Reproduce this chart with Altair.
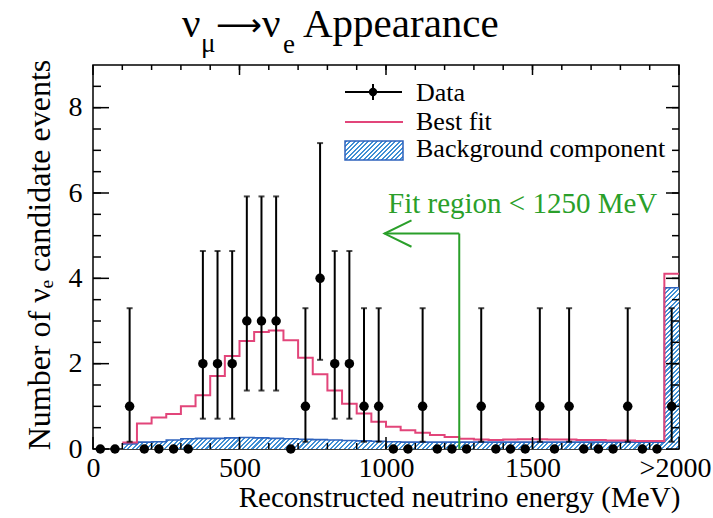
import altair as alt
import pandas as pd

# ---------------- data ----------------
bin_edges = list(range(0, 2001, 50))          # 40 bins of 50 MeV, last bin = ">2000" overflow
counts = [0, 0, 1, 0, 0, 0, 0, 2, 2, 2, 3, 3, 3, 0, 1, 4, 2, 2, 1, 1,
          0, 0, 1, 0, 0, 0, 1, 0, 0, 0, 1, 0, 1, 0, 0, 0, 1, 0, 0, 1]
err_low = [None, None, 0.17, None, None, None, None, 0.71, 0.71, 0.71,
           1.37, 1.37, 1.37, None, 0.17, 2.09, 0.71, 0.71, 0.17, 0.17,
           None, None, 0.17, None, None, None, 0.17, None, None, None,
           0.17, None, 0.17, None, None, None, 0.17, None, None, 0.17]
err_high = [None, None, 3.30, None, None, None, None, 4.64, 4.64, 4.64,
            5.92, 5.92, 5.92, None, 3.30, 7.17, 4.64, 4.64, 3.30, 3.30,
            None, None, 3.30, None, None, None, 3.30, None, None, None,
            3.30, None, 3.30, None, None, None, 3.30, None, None, 3.30]
best_fit = [None, None, 0.15, 0.60, 0.74, 0.82, 1.00, 1.26, 1.71, 2.18,
            2.53, 2.74, 2.78, 2.55, 2.14, 1.75, 1.37, 1.06, 0.83, 0.64,
            0.52, 0.44, 0.38, 0.33, 0.28, 0.24, 0.22, 0.21, 0.22, 0.23,
            0.23, 0.22, 0.22, 0.21, 0.21, 0.20, 0.20, 0.19, 0.19, 4.11]
background = [None, None, 0.12, 0.16, 0.17, 0.21, 0.24, 0.25, 0.25, 0.26,
              0.27, 0.26, 0.25, 0.24, 0.23, 0.22, 0.21, 0.20, 0.19, 0.18,
              0.17, 0.16, 0.16, 0.16, 0.16, 0.16, 0.16, 0.16, 0.16, 0.16,
              0.16, 0.16, 0.16, 0.16, 0.16, 0.16, 0.16, 0.16, 0.16, 3.78]

fit_limit = [1250]        # MeV
arrow_level = [5.05]      # events
arrow_tip = [995]         # MeV

x_major = [0, 500, 1000, 1500, 2000]
x_minor = [v for v in range(100, 2000, 100)]
y_major = [0, 2, 4, 6, 8]
y_minor = [v / 2 for v in range(1, 18)]

# ---------------- styling ----------------
W, H = 586, 384
XMAX, YMAX = 2000, 9
FONT = "Liberation Serif"
PINK = "#e2457a"
BLUE = "#2f63bd"
HATCH = "#3f8fd4"
GREEN = "#2a9f2a"

# ---------------- tables ----------------
hist = pd.DataFrame({
    "edge": bin_edges,
    "fit": best_fit + [best_fit[-1]],
    "bg": background + [background[-1]],
})
pts = pd.DataFrame({
    "center": [e + 25 for e in bin_edges[:-1]],
    "n": counts,
    "lo": err_low,
    "hi": err_high,
})
errs = pts.dropna()
fitreg = pd.DataFrame({"x": fit_limit, "y0": [0], "y1": arrow_level, "tip": arrow_tip})
head = pd.DataFrame({
    "x": [arrow_tip[0] + 92, arrow_tip[0], arrow_tip[0] + 92],
    "y": [arrow_level[0] + 0.31, arrow_level[0], arrow_level[0] - 0.31],
    "o": [0, 1, 2],
})
xmaj_df = pd.DataFrame({"v": x_major})
xmin_df = pd.DataFrame({"v": x_minor})
ymaj_df = pd.DataFrame({"v": y_major})
ymin_df = pd.DataFrame({"v": y_minor})
one = pd.DataFrame({"k": [0]})


def hatch_fill(w, h, period=4.6, frac=0.45):
    s = (w + h) * w / (w * w + h * h)
    n = int(round((w + h) / period))
    stops = []
    for i in range(n):
        a, b, c = i / n, (i + frac) / n, (i + 1) / n
        stops += [{"offset": a, "color": HATCH}, {"offset": b, "color": HATCH},
                  {"offset": b, "color": "white"}, {"offset": c, "color": "white"}]
    return {"gradient": "linear", "stops": stops, "x1": 0, "y1": 0,
            "x2": s, "y2": s * h / w}


first_bg = next(e for e, v in zip(bin_edges, background) if v is not None)
area_w = (XMAX - first_bg) / XMAX * W
area_h = max(v for v in background if v is not None) / YMAX * H

xs = alt.Scale(domain=[0, XMAX], nice=False, zero=False)
ys = alt.Scale(domain=[0, YMAX], nice=False)

x_label_axis = alt.Axis(orient="bottom", values=x_major, format="d", ticks=False, domain=False,
                        grid=False, labelFont=FONT, labelFontSize=28, labelColor="black",
                        labelPadding=5, labelFlush=False, labelOverlap=False, labelBound=False,
                        labelExpr="datum.value == 2000 ? '>2000' : datum.label",
                        labelOffset={"condition": {"test": "datum.value == 2000", "value": -4},
                                     "value": 0},
                        title="Reconstructed neutrino energy (MeV)", titleFont=FONT,
                        titleFontSize=29, titleFontWeight="normal", titleColor="black",
                        titleX=366, titleY=57, titleAlign="center", titleBaseline="alphabetic")
y_label_axis = alt.Axis(orient="left", values=y_major, ticks=False, domain=False, grid=False,
                        labelFont=FONT, labelFontSize=28, labelColor="black", labelPadding=11,
                        labelFlush=False, labelOverlap=False, title=None)

bg_area = alt.Chart(hist).mark_area(interpolate="step-after",
                                    fill=hatch_fill(area_w, area_h)).encode(
    x=alt.X("edge:Q", scale=xs, axis=x_label_axis),
    y=alt.Y("bg:Q", scale=ys, axis=y_label_axis))

bg_line = alt.Chart(hist).mark_line(interpolate="step-after", color=BLUE, strokeWidth=1.6).encode(
    x=alt.X("edge:Q", scale=xs), y=alt.Y("bg:Q", scale=ys))

fit_line = alt.Chart(hist).mark_line(interpolate="step-after", color=PINK, strokeWidth=2).encode(
    x=alt.X("edge:Q", scale=xs), y=alt.Y("fit:Q", scale=ys))

err_rule = alt.Chart(errs).mark_rule(color="black", strokeWidth=2).encode(
    x=alt.X("center:Q", scale=xs), y=alt.Y("lo:Q", scale=ys), y2="hi:Q")

cap_lo = alt.Chart(errs).mark_tick(orient="horizontal", color="black", thickness=2, size=6).encode(
    x=alt.X("center:Q", scale=xs), y=alt.Y("lo:Q", scale=ys))

cap_hi = alt.Chart(errs).mark_tick(orient="horizontal", color="black", thickness=2, size=6).encode(
    x=alt.X("center:Q", scale=xs), y=alt.Y("hi:Q", scale=ys))

points = alt.Chart(pts).mark_circle(color="black", opacity=1, size=90).encode(
    x=alt.X("center:Q", scale=xs), y=alt.Y("n:Q", scale=ys))

# inward ticks on all four sides (ROOT style)
TK = dict(color="black", strokeWidth=1.5)
ticks = [
    alt.Chart(xmaj_df).mark_rule(**TK).encode(x=alt.X("v:Q", scale=xs), y=alt.value(H), y2=alt.value(H - 12)),
    alt.Chart(xmin_df).mark_rule(**TK).encode(x=alt.X("v:Q", scale=xs), y=alt.value(H), y2=alt.value(H - 6)),
    alt.Chart(xmaj_df).mark_rule(**TK).encode(x=alt.X("v:Q", scale=xs), y=alt.value(0), y2=alt.value(10)),
    alt.Chart(xmin_df).mark_rule(**TK).encode(x=alt.X("v:Q", scale=xs), y=alt.value(0), y2=alt.value(5)),
    alt.Chart(ymaj_df).mark_rule(**TK).encode(y=alt.Y("v:Q", scale=ys), x=alt.value(0), x2=alt.value(16)),
    alt.Chart(ymin_df).mark_rule(**TK).encode(y=alt.Y("v:Q", scale=ys), x=alt.value(0), x2=alt.value(8)),
    alt.Chart(ymaj_df).mark_rule(**TK).encode(y=alt.Y("v:Q", scale=ys), x=alt.value(W), x2=alt.value(W - 13)),
    alt.Chart(ymin_df).mark_rule(**TK).encode(y=alt.Y("v:Q", scale=ys), x=alt.value(W), x2=alt.value(W - 7)),
]

green_v = alt.Chart(fitreg).mark_rule(color=GREEN, strokeWidth=2).encode(
    x=alt.X("x:Q", scale=xs), y=alt.Y("y0:Q", scale=ys), y2="y1:Q")
green_h = alt.Chart(fitreg).mark_rule(color=GREEN, strokeWidth=2).encode(
    x=alt.X("tip:Q", scale=xs), x2="x:Q", y=alt.Y("y1:Q", scale=ys))
green_head = alt.Chart(head).mark_line(color=GREEN, strokeWidth=2).encode(
    x=alt.X("x:Q", scale=xs), y=alt.Y("y:Q", scale=ys), order="o:Q")
green_text = alt.Chart(one).mark_text(text="Fit region < 1250 MeV", font=FONT, fontSize=29,
                                      color=GREEN, align="left", baseline="alphabetic").encode(
    x=alt.value(295), y=alt.value(148))


def txt(s, x, y, size, align="left", angle=0, font=FONT):
    kw = dict(text=s, font=font, fontSize=size, color="black", align=align, baseline="alphabetic")
    if angle:
        kw["angle"] = angle
    return alt.Chart(one).mark_text(**kw).encode(x=alt.value(x), y=alt.value(y))


# legend
leg = [
    alt.Chart(one).mark_rule(color="black", strokeWidth=2).encode(
        x=alt.value(252), x2=alt.value(309), y=alt.value(27)),
    alt.Chart(one).mark_rule(color="black", strokeWidth=2).encode(
        x=alt.value(280), y=alt.value(19), y2=alt.value(35)),
    alt.Chart(one).mark_circle(color="black", opacity=1, size=70).encode(
        x=alt.value(280), y=alt.value(27)),
    alt.Chart(one).mark_rule(color=PINK, strokeWidth=2).encode(
        x=alt.value(252), x2=alt.value(310), y=alt.value(57)),
    alt.Chart(one).mark_rect(fill=hatch_fill(58, 19), stroke=BLUE, strokeWidth=1.5).encode(
        x=alt.value(252), x2=alt.value(310), y=alt.value(76), y2=alt.value(95)),
    txt("Data", 323, 36, 26),
    txt("Best fit", 323, 65, 26),
    txt("Background component", 323, 92, 26),
]

# title  nu_mu -> nu_e Appearance
title = [
    txt("ν", 89, -28, 41),
    txt("μ", 108, -13, 27),
    txt("⟶", 123, -29, 32, font="DejaVu Sans"),
    txt("ν", 169, -28, 41),
    txt("e", 190, -12, 27),
    txt("Appearance", 210, -28, 41),
]

# y-axis title  Number of nu_e candidate events
ytitle = [
    txt("Number of νₑ candidate events", -43, 190, 32, align="center", angle=270),
]

chart = alt.layer(
    bg_area, bg_line, fit_line, *ticks, err_rule, cap_lo, cap_hi, points,
    green_v, green_h, green_head, green_text, *leg, *title, *ytitle
).properties(
    width=W, height=H,
    padding={"left": 93, "top": 65, "right": 34, "bottom": 69},
    autosize=alt.AutoSizeParams(type="none"),
).configure_view(stroke="black", strokeWidth=1.5)

chart.save("out.html", embed_options={"renderer": "svg", "actions": False})
